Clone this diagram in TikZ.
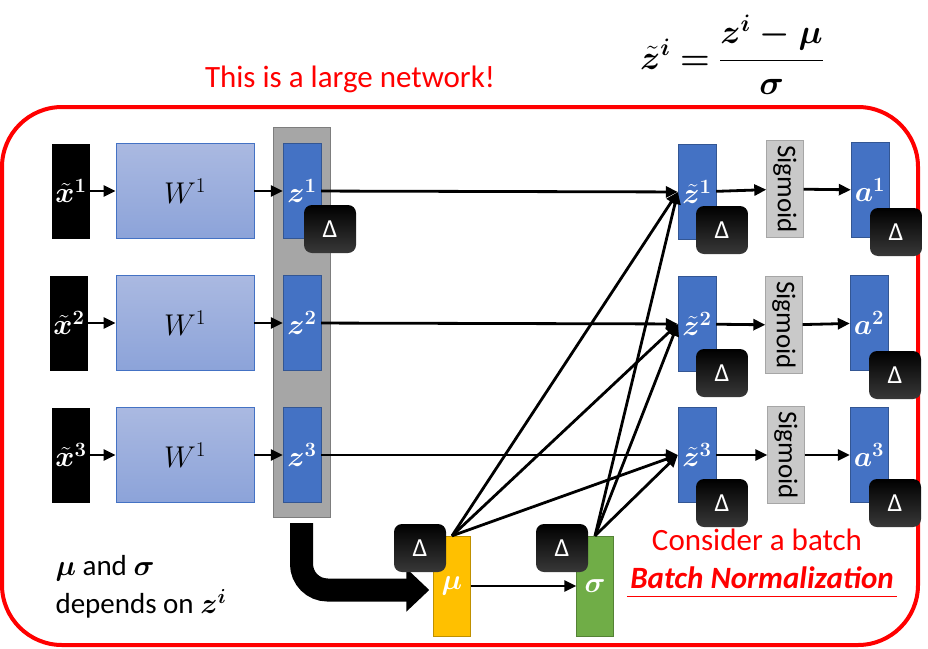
\RequirePackage{fix-cm}
\documentclass[tikz,border=0pt]{standalone}
\usepackage{fontspec}
\setmainfont{Carlito}
\usepackage{amsmath}
\usepackage{bm}
\usetikzlibrary{positioning,arrows.meta}
\definecolor{zblue}{HTML}{4472C4}
\definecolor{wtop}{HTML}{AAB9E1}
\definecolor{wbot}{HTML}{8CA3D9}
\definecolor{colgray}{HTML}{A6A6A6}
\definecolor{siggray}{HTML}{C9C9C9}
\definecolor{muyellow}{HTML}{FFC000}
\definecolor{sigreen}{HTML}{70AD47}
\tikzset{
  inbox/.style={fill=black, text=white, minimum width=38pt, minimum height=95pt, inner sep=0pt, font=\fontsize{29}{29}\selectfont},
  wbox/.style={draw=zblue, thick, top color=wtop, bottom color=wbot, minimum width=138pt, minimum height=95pt, inner sep=0pt, font=\fontsize{30}{30}\selectfont},
  zbox/.style={draw=zblue!75!black, fill=zblue, text=white, minimum width=38pt, minimum height=95pt, inner sep=0pt, font=\fontsize{29}{29}\selectfont},
  sigbox/.style={draw=colgray, fill=siggray, minimum width=37pt, minimum height=97pt, inner sep=0pt, font=\fontsize{10}{10}\selectfont},
  deltabox/.style={rounded corners=8pt, top color=black, bottom color=black!78!white, text=white, minimum width=52pt, minimum height=48pt, inner sep=0pt, font=\fontsize{26}{26}\selectfont},
  arr/.style={line width=2.8pt, -{Triangle[length=12pt,width=11pt]}}
}

\begin{document}
\begin{tikzpicture}[x=1pt, y=-1pt]
\useasboundingbox (0,0) rectangle (928,648);
\draw[red, line width=4pt, rounded corners=60pt] (2,107) rectangle (918,645);

\node[red, font=\fontsize{31}{31}\selectfont] (title) at (350,79) {This is a large network!};
\node[font=\fontsize{34}{38}\selectfont] (formula) at (732,55) {$\displaystyle \bm{\tilde{z}^{i} = \frac{z^{i} - \mu}{\sigma}}$};

\node[draw=colgray!75!black, fill=colgray, minimum width=57pt, minimum height=390pt] (col) at (301.5,322) {};

\node[inbox] (x1) at (71,191) {$\bm{\tilde{x}^{1}}$};
\node[inbox] (x2) at (69,323) {$\bm{\tilde{x}^{2}}$};
\node[inbox] (x3) at (71,455) {$\bm{\tilde{x}^{3}}$};

\node[wbox] (w1) at (185,191) {$W^1$};
\node[wbox] (w2) at (185,323) {$W^1$};
\node[wbox] (w3) at (185,455) {$W^1$};

\node[zbox] (z1) at (302,191) {$\bm{z^{1}}$};
\node[zbox] (z2) at (302,323) {$\bm{z^{2}}$};
\node[zbox] (z3) at (302,455) {$\bm{z^{3}}$};

\node[zbox] (zt1) at (697,192) {$\bm{\tilde{z}^{1}}$};
\node[zbox] (zt2) at (697,324) {$\bm{\tilde{z}^{2}}$};
\node[zbox] (zt3) at (697,455) {$\bm{\tilde{z}^{3}}$};

\node[sigbox] (s1) at (785,189) {\rotatebox{-90}{\scalebox{2.7}{Sigmoid}}};
\node[sigbox] (s2) at (784,325) {\rotatebox{-90}{\scalebox{2.7}{Sigmoid}}};
\node[sigbox] (s3) at (786,455) {\rotatebox{-90}{\scalebox{2.7}{Sigmoid}}};

\node[zbox] (a1) at (870,190) {$\bm{a^{1}}$};
\node[zbox] (a2) at (869,323) {$\bm{a^{2}}$};
\node[zbox] (a3) at (869,455) {$\bm{a^{3}}$};

\node[draw=muyellow!75!black, fill=muyellow, text=white, minimum width=37pt, minimum height=100pt, font=\fontsize{29}{29}\selectfont] (mu) at (452,586) {$\bm{\mu}$};
\node[draw=sigreen!75!black, fill=sigreen, text=white, minimum width=37pt, minimum height=100pt, font=\fontsize{29}{29}\selectfont] (sigma) at (595,586) {$\bm{\sigma}$};

\draw[arr] (x1) -- (w1);
\draw[arr] (x2) -- (w2);
\draw[arr] (x3) -- (w3);
\draw[arr] (w1) -- (z1);
\draw[arr] (w2) -- (z2);
\draw[arr] (w3) -- (z3);
\draw[arr] (z1) -- (zt1);
\draw[arr] (z2) -- (zt2);
\draw[arr] (z3) -- (zt3);
\draw[arr] (mu.north) -- (zt1.west);
\draw[arr] (mu.north) -- (zt2.west);
\draw[arr] (mu.north) -- (zt3.west);
\draw[arr] (sigma.north) -- (zt1.west);
\draw[arr] (sigma.north) -- (zt2.west);
\draw[arr] (sigma.north) -- (zt3.west);
\draw[arr] (zt1) -- (s1);
\draw[arr] (zt2) -- (s2);
\draw[arr] (zt3) -- (s3);
\draw[arr] (s1) -- (a1);
\draw[arr] (s2) -- (a2);
\draw[arr] (s3) -- (a3);
\draw[arr] (mu) -- (sigma);
\draw[line width=23pt, rounded corners=26pt, -{Triangle[length=23pt,width=42pt]}] ([yshift=-6pt]col.south) |- ([xshift=-4pt, yshift=-4pt]mu.west);

\node[deltabox] (dz1) at (330,229) {Δ};
\node[deltabox] (dzt1) at (722,230) {Δ};
\node[deltabox] (dzt2) at (722,373) {Δ};
\node[deltabox] (dzt3) at (722,503) {Δ};
\node[deltabox] (da1) at (896,232) {Δ};
\node[deltabox] (da2) at (895,375) {Δ};
\node[deltabox] (da3) at (895,503) {Δ};
\node[deltabox] (dmu) at (420,548) {Δ};
\node[deltabox] (dsig) at (562,548) {Δ};

\node[red, font=\fontsize{31}{31}\selectfont] (batch) at (757,540) {Consider a batch};
\node[red, font=\fontsize{31}{31}\selectfont\bfseries\itshape] (bn) at (762,578) {Batch Normalization};
\draw[red, line width=1.2pt] ([yshift=-4pt]bn.south west) -- ([yshift=-4pt]bn.south east);

\node[align=left, anchor=west, font=\fontsize{29}{38}\selectfont] (dep) at (52,587) {$\bm{\mu}$ and $\bm{\sigma}$\\depends on $\bm{z^{i}}$};
\end{tikzpicture}
\end{document}
